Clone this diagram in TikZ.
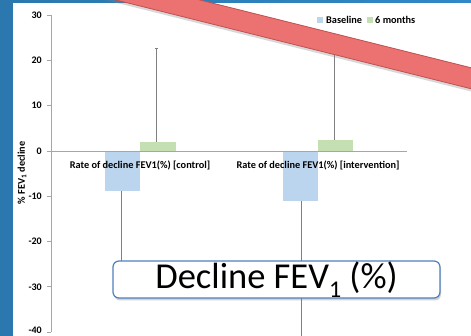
\documentclass[tikz,border=0pt]{standalone}
\usepackage{fontspec}
\setmainfont{Carlito}
\usetikzlibrary{shadows,positioning}
\definecolor{slideblue}{HTML}{3088C6}
\definecolor{basebar}{HTML}{BCD5EE}
\definecolor{sixbar}{HTML}{C4DFB1}
\definecolor{bandred}{HTML}{EC7171}
\definecolor{banddark}{HTML}{C0504D}
\definecolor{boxblue}{HTML}{4F81BD}
\definecolor{axisgray}{HTML}{A6A6A6}

\begin{document}
\begin{tikzpicture}[x=1pt,y=-1pt,
    ticklbl/.style={font=\bfseries\fontsize{10}{11}\selectfont,anchor=east,inner sep=0pt},
    catlbl/.style={font=\bfseries\fontsize{10.3}{12}\selectfont,inner sep=0pt},
    errline/.style={draw=gray,line width=0.8pt}]
    \useasboundingbox (0,0) rectangle (471,336);
    \clip (0,0) rectangle (471,336);
    % slide background
    \fill[left color=slideblue!88!black,right color=slideblue] (0,0) rectangle (471,336);
    \fill[white] (13,3) rectangle (471,336);
    % chart, y in percent
    \begin{scope}[shift={(0,151)},y=4.53pt]
      \fill[basebar] (105,0) rectangle (140,-8.8);
      \fill[sixbar] (140,0) rectangle (176,2.0);
      \fill[basebar] (283,0) rectangle (318,-11.0);
      \fill[sixbar] (318,0) rectangle (353,2.4);
      \draw[errline] (156,2.0) -- (156,22.7);
      \draw[errline] (154.5,22.7) -- (157.5,22.7);
      \draw[errline] (121,-8.8) -- (121,-28);
      \draw[errline] (334,2.4) -- (334,26);
      \draw[errline] (301,-11.0) -- (301,-45);
      \draw[axisgray,line width=0.8pt] (51,30) -- (51,-40);
      \draw[axisgray,line width=0.8pt] (51,0) -- (407,0);
      \foreach \v in {-40,-30,...,30} {
        \draw[axisgray,line width=0.8pt] (47,\v) -- (51,\v);
        \node[ticklbl] at (42,{max(\v,-39.5)}) {\v};
      }
      \node[catlbl] (ctrl) at (140,-3.3) {Rate of decline FEV1(\%) [control]};
      \node[catlbl] (intv) at (318,-3.3) {Rate of decline FEV1(\%) [intervention]};
    \end{scope}
    \node[catlbl,rotate=90] (ylbl) at (22,173) {\% FEV\textsubscript{1} decline};
    % legend
    \fill[basebar] (317,17) rectangle (323,23);
    \node[catlbl,anchor=west] (lbase) at (326,20) {Baseline};
    \fill[sixbar] (367,17) rectangle (373,23);
    \node[catlbl,anchor=west] (lsix) at (375,20) {6 months};
    % red band
    \filldraw[fill=bandred,draw=banddark,line width=0.8pt,
      drop shadow={shadow xshift=1pt,shadow yshift=-3pt,opacity=0.3}]
      (60,-35) -- (520,80) -- (520,101) -- (60,-14) -- cycle;
    % callout
    \node[draw=boxblue,line width=1.2pt,fill=white,rounded corners=6pt,
      minimum width=327pt,minimum height=37pt,inner sep=0pt,
      drop shadow={shadow xshift=1pt,shadow yshift=-2.5pt,opacity=0.35},
      font=\fontsize{36.5}{40}\selectfont] (callout) at (276.5,279.5)
      {Decline FEV\raisebox{-0.25em}{\fontsize{24}{24}\selectfont 1} (\%)};
\end{tikzpicture}
\end{document}
